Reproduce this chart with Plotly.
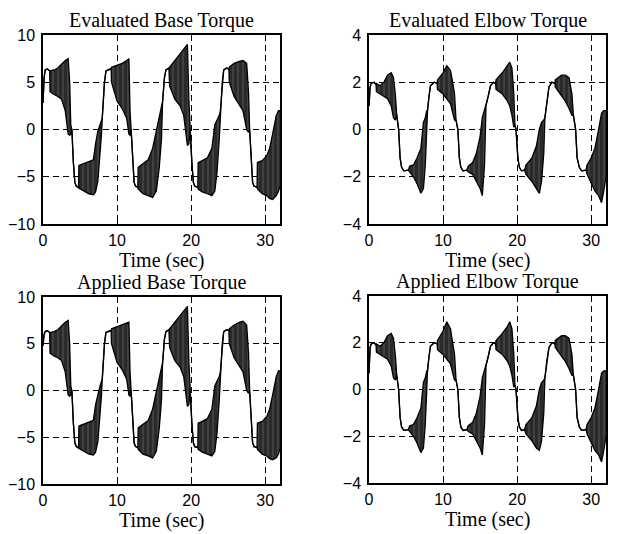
import plotly.graph_objects as go

# ---------------- data ----------------
# Each panel: time points, upper envelope, lower envelope of the trace
# (where upper == lower the trace is a single clean line; otherwise it is a dense oscillation band)

eval_base_t = [0.0, 0.15, 0.3, 0.6, 0.9, 0.95, 1.5, 2.0, 2.5, 3.0, 3.4, 3.6, 3.75, 3.9, 4.1, 4.3, 4.5, 4.8,
               4.85, 5.5, 6.2, 6.8, 7.1, 7.4, 7.7, 7.9, 8.0, 8.3, 8.5, 9.0, 9.2, 9.25, 10.0, 10.7, 11.3,
               11.6, 11.75, 11.9, 12.1, 12.3, 12.5, 12.8, 12.85, 13.5, 14.2, 14.8, 15.3, 15.7, 16.0, 16.15,
               16.4, 16.6, 17.0, 17.1, 17.8, 18.5, 19.0, 19.5, 19.7, 19.85, 20.1, 20.3, 20.5, 20.9, 20.95,
               21.5, 22.2, 22.8, 23.2, 23.5, 23.8, 23.95, 24.2, 24.4, 24.8, 25.1, 25.15, 25.8, 26.5, 27.0,
               27.5, 27.75, 27.9, 28.1, 28.3, 28.5, 28.9, 28.95, 29.6, 30.2, 30.6, 31.0, 31.5, 31.8, 32.0]
eval_base_hi = [2.8, 5.5, 6.3, 6.4, 6.2, 6.2, 6.3, 6.5, 6.9, 7.3, 7.5, 5.0, 0.5, 0.0, -3.5, -5.6, -6.0, -6.1,
                -3.8, -3.6, -3.4, -3.2, -1.5, -0.2, 0.5, 1.0, 1.2, 5.0, 6.2, 6.4, 6.4, 6.6, 6.8, 7.0, 7.3,
                7.5, 2.0, 0.0, -3.5, -5.6, -6.0, -6.1, -4.0, -3.6, -3.2, -2.0, 0.0, 1.5, 2.5, 3.0,
                5.5, 6.3, 6.5, 6.6, 7.3, 8.0, 8.5, 9.0, 3.0, 0.0, -3.5, -5.6, -6.0, -6.1, -3.5,
                -3.3, -3.0, -2.0, 0.5, 1.0, 1.5, 2.0, 5.0, 6.3, 6.5, 6.4, 6.6, 7.0, 7.2, 7.3,
                7.0, 4.0, 0.0, -3.5, -5.6, -6.0, -6.1, -3.5, -3.3, -2.8, -2.0, -0.5, 1.5, 2.0, 2.0]
eval_base_lo = [2.8, 5.5, 6.3, 6.4, 6.2, 4.0, 3.7, 3.5, 3.2, 2.0, -0.5, -0.6, -0.5, 0.0, -3.5, -5.6, -6.0, -6.1,
                -6.2, -6.5, -6.8, -6.9, -6.6, -5.5, -3.0, -0.5, 1.2, 5.0, 6.2, 6.4, 6.4, 5.0, 3.0, 2.2, 1.2,
                -0.5, -0.6, 0.0, -3.5, -5.6, -6.0, -6.1, -6.3, -6.8, -7.0, -7.2, -6.5, -4.0, -1.0, 3.0,
                5.5, 6.3, 6.5, 4.6, 3.2, 2.5, 1.5, -1.7, -1.5, 0.0, -3.5, -5.6, -6.0, -6.1, -6.3,
                -6.6, -6.8, -7.0, -6.5, -4.5, -1.0, 2.0, 5.0, 6.3, 6.5, 6.4, 5.0, 3.5, 2.6, 2.0,
                0.0, -0.3, 0.0, -3.5, -5.6, -6.0, -6.1, -6.3, -6.8, -7.0, -7.3, -7.4, -7.0, -6.5, -6.0]

appl_base_t = eval_base_t
appl_base_hi = [4.8, 6.0, 6.3, 6.4, 6.2, 6.2, 6.3, 6.5, 6.9, 7.3, 7.5, 5.0, 0.5, 0.0, -3.5, -5.6, -6.0, -6.1,
                -3.8, -3.6, -3.4, -3.2, -1.5, -0.3, 0.5, 1.0, 1.2, 5.0, 6.2, 6.4, 6.4, 6.6, 6.8, 7.0, 7.2,
                7.3, 2.0, 0.0, -3.5, -5.6, -6.0, -6.1, -4.0, -3.6, -3.2, -2.0, 0.0, 1.5, 2.5, 3.0,
                5.5, 6.3, 6.5, 6.6, 7.3, 8.0, 8.5, 9.0, 3.0, 0.0, -3.5, -5.6, -6.0, -6.1, -3.5,
                -3.3, -3.0, -2.0, 0.5, 1.0, 1.5, 2.0, 5.0, 6.3, 6.5, 6.4, 6.6, 7.0, 7.3, 7.4,
                7.0, 4.0, 0.0, -3.5, -5.6, -6.0, -6.1, -3.5, -3.3, -2.8, -2.0, -0.5, 1.5, 2.1, 2.1]
appl_base_lo = [4.8, 6.0, 6.3, 6.4, 6.2, 4.0, 3.7, 3.5, 3.2, 2.0, -0.5, -0.6, -0.5, 0.0, -3.5, -5.6, -6.0, -6.1,
                -6.2, -6.5, -6.8, -6.9, -6.6, -5.5, -3.0, -0.5, 1.2, 5.0, 6.2, 6.4, 6.4, 5.0, 3.0, 2.2, 1.2,
                -0.5, -0.6, 0.0, -3.5, -5.6, -6.0, -6.1, -6.3, -6.8, -7.0, -7.2, -6.5, -4.0, -1.0, 3.0,
                5.5, 6.3, 6.5, 4.6, 3.2, 2.5, 1.5, -1.7, -1.5, 0.0, -3.5, -5.6, -6.0, -6.1, -6.3,
                -6.6, -6.8, -7.0, -6.5, -4.5, -1.0, 2.0, 5.0, 6.3, 6.5, 6.4, 5.0, 3.5, 2.6, 2.0,
                0.0, -0.3, 0.0, -3.5, -5.6, -6.0, -6.1, -6.3, -6.8, -7.0, -7.3, -7.4, -7.2, -6.8, -6.2]

eval_elbow_t = [0.0, 0.15, 0.3, 0.7, 0.95, 1.0, 1.5, 2.0, 2.5, 3.0, 3.3, 3.55, 3.75, 4.0, 4.2, 4.4, 4.7, 5.3,
                5.5, 6.0, 6.5, 7.0, 7.35, 7.6, 7.8, 7.9, 8.1, 8.3, 8.8, 9.2, 9.25, 10.0, 10.5, 11.0, 11.3,
                11.55, 11.75, 12.0, 12.2, 12.4, 12.7, 13.2, 13.4, 14.0, 14.5, 15.0, 15.3, 15.6, 15.8, 16.1,
                16.4, 16.8, 17.1, 17.15, 18.0, 18.7, 19.0, 19.3, 19.55, 19.7, 19.85, 20.1, 20.3, 20.6, 21.0,
                21.2, 22.0, 22.6, 23.0, 23.3, 23.6, 23.75, 24.0, 24.3, 24.7, 25.1, 25.15, 26.0, 26.5, 27.0,
                27.4, 27.6, 27.9, 28.1, 28.4, 28.7, 29.3, 29.45, 30.0, 30.5, 31.0, 31.4, 31.7, 32.0]
eval_elbow_hi = [1.0, 1.8, 1.95, 2.0, 1.9, 1.95, 1.85, 2.0, 2.3, 2.4, 2.2, 1.5, 0.6, 0.0, -1.2, -1.6, -1.75, -1.72,
                 -1.55, -1.5, -1.2, -0.8, 0.3, 0.5, 0.8, 0.8, 1.4, 1.85, 2.0, 1.95, 2.1, 2.4, 2.7, 2.5, 2.0,
                 1.5, 0.4, 0.0, -1.2, -1.6, -1.75, -1.72, -1.55, -1.4, -1.0, -0.3, 0.5, 0.8, 1.0, 1.4,
                 1.85, 2.0, 1.95, 2.1, 2.4, 2.7, 2.85, 2.6, 1.5, 0.2, 0.0, -1.2, -1.6, -1.75, -1.72,
                 -1.5, -1.2, -0.7, 0.0, 0.3, 0.4, 0.5, 1.2, 1.8, 2.0, 1.95, 2.1, 2.3, 2.3, 2.2,
                 1.5, 0.6, 0.0, -1.2, -1.6, -1.75, -1.72, -1.5, -1.2, -0.8, 0.0, 0.7, 0.8, 0.8]
eval_elbow_lo = [1.0, 1.8, 1.95, 2.0, 1.9, 1.6, 1.5, 1.4, 1.3, 1.0, 0.5, 0.4, 0.6, 0.0, -1.2, -1.6, -1.75, -1.72,
                 -1.8, -2.0, -2.3, -2.7, -2.5, -1.5, 0.0, 0.8, 1.4, 1.85, 2.0, 1.95, 1.7, 1.5, 1.3, 1.1, 0.7,
                 0.4, 0.4, 0.0, -1.2, -1.6, -1.75, -1.72, -1.8, -1.9, -2.2, -2.5, -2.8, -1.5, 1.0, 1.4,
                 1.85, 2.0, 1.95, 1.7, 1.5, 1.2, 1.0, 0.6, 0.1, 0.2, 0.0, -1.2, -1.6, -1.75, -1.72,
                 -1.9, -2.2, -2.5, -2.7, -2.2, -1.0, 0.5, 1.2, 1.8, 2.0, 1.95, 1.8, 1.4, 1.2, 0.9,
                 0.6, 0.6, 0.0, -1.2, -1.6, -1.75, -1.72, -1.9, -2.3, -2.6, -2.8, -3.1, -2.6, -2.0]

appl_elbow_t = eval_elbow_t
appl_elbow_hi = [0.7, 1.8, 1.95, 2.0, 1.9, 1.95, 1.85, 2.0, 2.3, 2.4, 2.2, 1.5, 0.6, 0.0, -1.2, -1.6, -1.75, -1.72,
                 -1.55, -1.5, -1.2, -0.8, 0.3, 0.5, 0.8, 0.8, 1.4, 1.85, 2.0, 1.95, 2.1, 2.5, 2.9, 2.6, 2.0,
                 1.5, 0.4, 0.0, -1.2, -1.6, -1.75, -1.72, -1.55, -1.4, -1.0, -0.3, 0.5, 0.8, 1.0, 1.4,
                 1.85, 2.0, 1.95, 2.1, 2.4, 2.7, 2.9, 2.6, 1.5, 0.2, 0.0, -1.2, -1.6, -1.75, -1.72,
                 -1.5, -1.2, -0.7, 0.0, 0.3, 0.4, 0.5, 1.2, 1.8, 2.0, 1.95, 2.1, 2.3, 2.3, 2.2,
                 1.5, 0.6, 0.0, -1.2, -1.6, -1.75, -1.72, -1.5, -1.2, -0.8, 0.0, 0.7, 0.8, 0.8]
appl_elbow_lo = [0.7, 1.8, 1.95, 2.0, 1.9, 1.6, 1.5, 1.4, 1.3, 1.0, 0.5, 0.4, 0.6, 0.0, -1.2, -1.6, -1.75, -1.72,
                 -1.8, -2.0, -2.3, -2.7, -2.5, -1.5, 0.0, 0.8, 1.4, 1.85, 2.0, 1.95, 1.7, 1.5, 1.3, 1.1, 0.7,
                 0.4, 0.4, 0.0, -1.2, -1.6, -1.75, -1.72, -1.8, -1.9, -2.2, -2.5, -2.8, -1.5, 1.0, 1.4,
                 1.85, 2.0, 1.95, 1.7, 1.5, 1.2, 1.0, 0.6, 0.1, 0.2, 0.0, -1.2, -1.6, -1.75, -1.72,
                 -1.9, -2.2, -2.5, -2.6, -2.2, -1.0, 0.5, 1.2, 1.8, 2.0, 1.95, 1.8, 1.4, 1.2, 0.9,
                 0.6, 0.6, 0.0, -1.2, -1.6, -1.75, -1.72, -1.9, -2.3, -2.6, -2.8, -3.1, -2.6, -2.0]

titles = ["Evaluated Base Torque", "Evaluated Elbow Torque", "Applied Base Torque", "Applied Elbow Torque"]
x_label = "Time (sec)"
x_ticks = [0, 10, 20, 30]
base_y_ticks = [-10, -5, 0, 5, 10]
elbow_y_ticks = [-4, -2, 0, 2, 4]

# ---------------- figure ----------------
OFF = 8                      # page body margin of the browser
W, H = 618 - OFF, 534 - OFF  # figure size so that the page fills the window
ML, MR, MT, MB = 34, 2, 26, 34
PW, PH = W - ML - MR, H - MT - MB
fig = go.Figure()

panels = [
    # (t, hi, lo, yticks, yrange, x px (left,right), y px (top,bottom)) in window pixels
    (eval_base_t, eval_base_hi, eval_base_lo, base_y_ticks, [-10, 10], (43, 280), (35, 224)),
    (eval_elbow_t, eval_elbow_hi, eval_elbow_lo, elbow_y_ticks, [-4, 4], (369, 606), (35, 224)),
    (appl_base_t, appl_base_hi, appl_base_lo, base_y_ticks, [-10, 10], (43, 280), (297, 484)),
    (appl_elbow_t, appl_elbow_hi, appl_elbow_lo, elbow_y_ticks, [-4, 4], (369, 606), (296, 483)),
]

serif = "Liberation Serif, Times New Roman, serif"
sans = "Liberation Sans, Arial, sans-serif"


def fx(px):
    return (px - OFF - ML) / PW


def fy(py):
    return 1 - (py - OFF - MT) / PH


layout = dict(
    width=W, height=H, margin=dict(l=ML, r=MR, t=MT, b=MB, autoexpand=False),
    paper_bgcolor="white", plot_bgcolor="white", showlegend=False,
)
annotations = []
for i, (t, hi, lo, yt, yr, (x0, x1), (yt0, yb0)) in enumerate(panels):
    n = "" if i == 0 else str(i + 1)
    xa, ya = "x" + n, "y" + n
    fig.add_trace(go.Scatter(x=t, y=hi, mode="lines", line=dict(color="black", width=1.3),
                             xaxis=xa, yaxis=ya, hoverinfo="skip"))
    fig.add_trace(go.Scatter(x=t, y=lo, mode="lines", line=dict(color="black", width=1.3),
                             fill="tonexty", fillcolor="black",
                             fillpattern=dict(shape="|", size=5, solidity=0.8,
                                              fgcolor="black", bgcolor="#555555"),
                             xaxis=xa, yaxis=ya, hoverinfo="skip"))
    axis_common = dict(showline=True, mirror=True, linecolor="black", linewidth=1.5,
                       showgrid=True, gridcolor="black", gridwidth=1.2, griddash="6px,4px",
                       zeroline=False, ticks="inside", ticklen=3, tickcolor="black",
                       automargin=False,
                       tickfont=dict(family=sans, size=16, color="black"))
    layout["xaxis" + n] = dict(domain=[fx(x0), fx(x1)], range=[0, 32], tickvals=x_ticks,
                               anchor=ya, ticklabelstandoff=1, **axis_common)
    layout["yaxis" + n] = dict(domain=[fy(yb0), fy(yt0)], range=yr, tickvals=yt,
                               anchor=xa, ticklabelstandoff=3, **axis_common)
    cx = (x0 + x1) / 2
    annotations.append(dict(text=titles[i], x=fx(cx), y=fy(yt0 - 15), xref="paper", yref="paper",
                            xanchor="center", yanchor="middle", showarrow=False,
                            font=dict(family=serif, size=20, color="black")))
    annotations.append(dict(text=x_label, x=fx(cx), y=fy(yb0 + 36), xref="paper", yref="paper",
                            xanchor="center", yanchor="middle", showarrow=False,
                            font=dict(family=serif, size=20, color="black")))

layout["annotations"] = annotations
fig.update_layout(**layout)
fig.write_html("out.html")
